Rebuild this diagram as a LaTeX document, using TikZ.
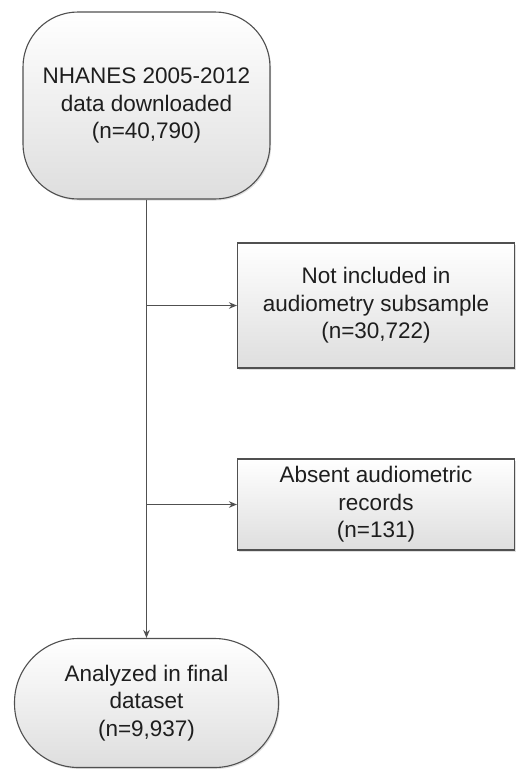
\documentclass[tikz,border=0pt]{standalone}
\usepackage{fontspec}
\setmainfont{Liberation Sans}
\usetikzlibrary{shadows,arrows.meta}
\definecolor{edge}{HTML}{505050}
\definecolor{txt}{HTML}{1E1E1E}
\tikzset{
  boxbase/.style={draw=edge, line width=1.1pt, top color=white, bottom color=black!13,
    drop shadow={shadow xshift=1.2pt, shadow yshift=-1.5pt, opacity=0.25},
    align=center, inner sep=0pt, text=txt,
    font=\fontsize{22.5}{27.5}\selectfont},
  terminal/.style={boxbase, rounded corners=55pt},
  stadium/.style={boxbase, rounded corners=64pt},
  excl/.style={boxbase},
  conn/.style={draw=edge, line width=1.2pt, -{Stealth[length=8pt,width=6.5pt]}}
}
\begin{document}
\begin{tikzpicture}[x=1pt,y=-1pt]
\useasboundingbox (0,0) rectangle (516,769);
\node[terminal, minimum width=247pt, minimum height=187pt] (top) at (146.5,105.5)
  {NHANES 2005-2012\\data downloaded\\(n=40,790)};
\node[excl, minimum width=277pt, minimum height=125pt] (b1) at (376,305.5)
  {Not included in\\audiometry subsample\\(n=30,722)};
\node[excl, minimum width=277pt, minimum height=91pt] (b2) at (376,504.5)
  {Absent audiometric\\records\\(n=131)};
\node[stadium, minimum width=264pt, minimum height=129pt] (bot) at (146.5,703)
  {Analyzed in final\\dataset\\(n=9,937)};
\draw[conn] (top.south) -- (bot.north);
\draw[conn] (top.south |- b1.west) -- (b1.west);
\draw[conn] (top.south |- b2.west) -- (b2.west);
\end{tikzpicture}
\end{document}
